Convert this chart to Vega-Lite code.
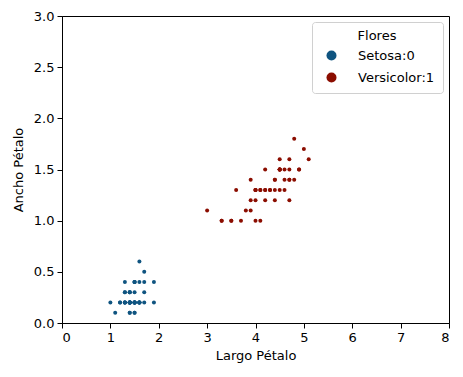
{
  "$schema": "https://vega.github.io/schema/vega-lite/v6.json",
  "width": 387,
  "height": 307,
  "autosize": "none",
  "padding": {"left": 62, "top": 16, "right": 14, "bottom": 54},
  "background": "white",
  "config": {
    "view": {"stroke": "black", "strokeWidth": 1},
    "font": "DejaVu Sans",
    "axis": {
      "grid": false, "domainColor": "black", "tickColor": "black", "labelColor": "black",
      "titleColor": "black", "labelFontSize": 13, "titleFontSize": 13, "titleFontWeight": "normal",
      "tickSize": 5, "labelPadding": 3, "labelFont": "DejaVu Sans", "titleFont": "DejaVu Sans"
    }
  },
  "data": {"values": [
    {"largo":1.4,"ancho":0.2,"flor":"Setosa:0"},{"largo":1.4,"ancho":0.2,"flor":"Setosa:0"},{"largo":1.3,"ancho":0.2,"flor":"Setosa:0"},{"largo":1.5,"ancho":0.2,"flor":"Setosa:0"},{"largo":1.4,"ancho":0.2,"flor":"Setosa:0"},
    {"largo":1.7,"ancho":0.4,"flor":"Setosa:0"},{"largo":1.4,"ancho":0.3,"flor":"Setosa:0"},{"largo":1.5,"ancho":0.2,"flor":"Setosa:0"},{"largo":1.4,"ancho":0.2,"flor":"Setosa:0"},{"largo":1.5,"ancho":0.1,"flor":"Setosa:0"},
    {"largo":1.5,"ancho":0.2,"flor":"Setosa:0"},{"largo":1.6,"ancho":0.2,"flor":"Setosa:0"},{"largo":1.4,"ancho":0.1,"flor":"Setosa:0"},{"largo":1.1,"ancho":0.1,"flor":"Setosa:0"},{"largo":1.2,"ancho":0.2,"flor":"Setosa:0"},
    {"largo":1.5,"ancho":0.4,"flor":"Setosa:0"},{"largo":1.3,"ancho":0.4,"flor":"Setosa:0"},{"largo":1.4,"ancho":0.3,"flor":"Setosa:0"},{"largo":1.7,"ancho":0.3,"flor":"Setosa:0"},{"largo":1.5,"ancho":0.3,"flor":"Setosa:0"},
    {"largo":1.7,"ancho":0.2,"flor":"Setosa:0"},{"largo":1.5,"ancho":0.4,"flor":"Setosa:0"},{"largo":1.0,"ancho":0.2,"flor":"Setosa:0"},{"largo":1.7,"ancho":0.5,"flor":"Setosa:0"},{"largo":1.9,"ancho":0.2,"flor":"Setosa:0"},
    {"largo":1.6,"ancho":0.2,"flor":"Setosa:0"},{"largo":1.6,"ancho":0.4,"flor":"Setosa:0"},{"largo":1.5,"ancho":0.2,"flor":"Setosa:0"},{"largo":1.4,"ancho":0.2,"flor":"Setosa:0"},{"largo":1.6,"ancho":0.2,"flor":"Setosa:0"},
    {"largo":1.6,"ancho":0.2,"flor":"Setosa:0"},{"largo":1.5,"ancho":0.4,"flor":"Setosa:0"},{"largo":1.5,"ancho":0.1,"flor":"Setosa:0"},{"largo":1.4,"ancho":0.2,"flor":"Setosa:0"},{"largo":1.5,"ancho":0.2,"flor":"Setosa:0"},
    {"largo":1.2,"ancho":0.2,"flor":"Setosa:0"},{"largo":1.3,"ancho":0.2,"flor":"Setosa:0"},{"largo":1.4,"ancho":0.1,"flor":"Setosa:0"},{"largo":1.3,"ancho":0.2,"flor":"Setosa:0"},{"largo":1.5,"ancho":0.2,"flor":"Setosa:0"},
    {"largo":1.3,"ancho":0.3,"flor":"Setosa:0"},{"largo":1.3,"ancho":0.3,"flor":"Setosa:0"},{"largo":1.3,"ancho":0.2,"flor":"Setosa:0"},{"largo":1.6,"ancho":0.6,"flor":"Setosa:0"},{"largo":1.9,"ancho":0.4,"flor":"Setosa:0"},
    {"largo":1.4,"ancho":0.3,"flor":"Setosa:0"},{"largo":1.6,"ancho":0.2,"flor":"Setosa:0"},{"largo":1.4,"ancho":0.2,"flor":"Setosa:0"},{"largo":1.5,"ancho":0.2,"flor":"Setosa:0"},{"largo":1.4,"ancho":0.2,"flor":"Setosa:0"},
    {"largo":4.7,"ancho":1.4,"flor":"Versicolor:1"},{"largo":4.5,"ancho":1.5,"flor":"Versicolor:1"},{"largo":4.9,"ancho":1.5,"flor":"Versicolor:1"},{"largo":4.0,"ancho":1.3,"flor":"Versicolor:1"},{"largo":4.6,"ancho":1.5,"flor":"Versicolor:1"},
    {"largo":4.5,"ancho":1.3,"flor":"Versicolor:1"},{"largo":4.7,"ancho":1.6,"flor":"Versicolor:1"},{"largo":3.3,"ancho":1.0,"flor":"Versicolor:1"},{"largo":4.6,"ancho":1.3,"flor":"Versicolor:1"},{"largo":3.9,"ancho":1.4,"flor":"Versicolor:1"},
    {"largo":3.5,"ancho":1.0,"flor":"Versicolor:1"},{"largo":4.2,"ancho":1.5,"flor":"Versicolor:1"},{"largo":4.0,"ancho":1.0,"flor":"Versicolor:1"},{"largo":4.7,"ancho":1.4,"flor":"Versicolor:1"},{"largo":3.6,"ancho":1.3,"flor":"Versicolor:1"},
    {"largo":4.4,"ancho":1.4,"flor":"Versicolor:1"},{"largo":4.5,"ancho":1.5,"flor":"Versicolor:1"},{"largo":4.1,"ancho":1.0,"flor":"Versicolor:1"},{"largo":4.5,"ancho":1.5,"flor":"Versicolor:1"},{"largo":3.9,"ancho":1.1,"flor":"Versicolor:1"},
    {"largo":4.8,"ancho":1.8,"flor":"Versicolor:1"},{"largo":4.0,"ancho":1.3,"flor":"Versicolor:1"},{"largo":4.9,"ancho":1.5,"flor":"Versicolor:1"},{"largo":4.7,"ancho":1.2,"flor":"Versicolor:1"},{"largo":4.3,"ancho":1.3,"flor":"Versicolor:1"},
    {"largo":4.4,"ancho":1.4,"flor":"Versicolor:1"},{"largo":4.8,"ancho":1.4,"flor":"Versicolor:1"},{"largo":5.0,"ancho":1.7,"flor":"Versicolor:1"},{"largo":4.5,"ancho":1.5,"flor":"Versicolor:1"},{"largo":3.5,"ancho":1.0,"flor":"Versicolor:1"},
    {"largo":3.8,"ancho":1.1,"flor":"Versicolor:1"},{"largo":3.7,"ancho":1.0,"flor":"Versicolor:1"},{"largo":3.9,"ancho":1.2,"flor":"Versicolor:1"},{"largo":5.1,"ancho":1.6,"flor":"Versicolor:1"},{"largo":4.5,"ancho":1.5,"flor":"Versicolor:1"},
    {"largo":4.5,"ancho":1.6,"flor":"Versicolor:1"},{"largo":4.7,"ancho":1.5,"flor":"Versicolor:1"},{"largo":4.4,"ancho":1.3,"flor":"Versicolor:1"},{"largo":4.1,"ancho":1.3,"flor":"Versicolor:1"},{"largo":4.0,"ancho":1.3,"flor":"Versicolor:1"},
    {"largo":4.4,"ancho":1.2,"flor":"Versicolor:1"},{"largo":4.6,"ancho":1.4,"flor":"Versicolor:1"},{"largo":4.0,"ancho":1.2,"flor":"Versicolor:1"},{"largo":3.3,"ancho":1.0,"flor":"Versicolor:1"},{"largo":4.2,"ancho":1.3,"flor":"Versicolor:1"},
    {"largo":4.2,"ancho":1.2,"flor":"Versicolor:1"},{"largo":4.2,"ancho":1.3,"flor":"Versicolor:1"},{"largo":4.3,"ancho":1.3,"flor":"Versicolor:1"},{"largo":3.0,"ancho":1.1,"flor":"Versicolor:1"},{"largo":4.1,"ancho":1.3,"flor":"Versicolor:1"}
  ]},
  "mark": {"type": "circle", "size": 16, "opacity": 1},
  "encoding": {
    "x": {"field": "largo", "type": "quantitative", "title": "Largo Pétalo",
      "scale": {"domain": [0, 8], "nice": false}, "axis": {"values": [0,1,2,3,4,5,6,7,8], "titlePadding": 5}},
    "y": {"field": "ancho", "type": "quantitative", "title": "Ancho Pétalo",
      "scale": {"domain": [0, 3], "nice": false}, "axis": {"values": [0,0.5,1,1.5,2,2.5,3], "format": ".1f", "titlePadding": 8}},
    "color": {"field": "flor", "type": "nominal", "title": "Flores",
      "scale": {"domain": ["Setosa:0", "Versicolor:1"], "range": ["#0f5480", "#8b0d00"]},
      "legend": {"orient": "top-right", "offset": 6, "fillColor": "white", "strokeColor": "#d0d0d0",
        "cornerRadius": 3, "padding": 8, "titleFontWeight": "normal", "titleFontSize": 13, "labelFontSize": 13,
        "symbolType": "circle", "symbolSize": 100, "symbolOpacity": 1, "symbolOffset": 5, "titleAnchor": "middle", "rowPadding": 8,
        "labelOffset": 20, "titlePadding": 6, "labelColor": "black", "titleColor": "black"}}
  }
}
